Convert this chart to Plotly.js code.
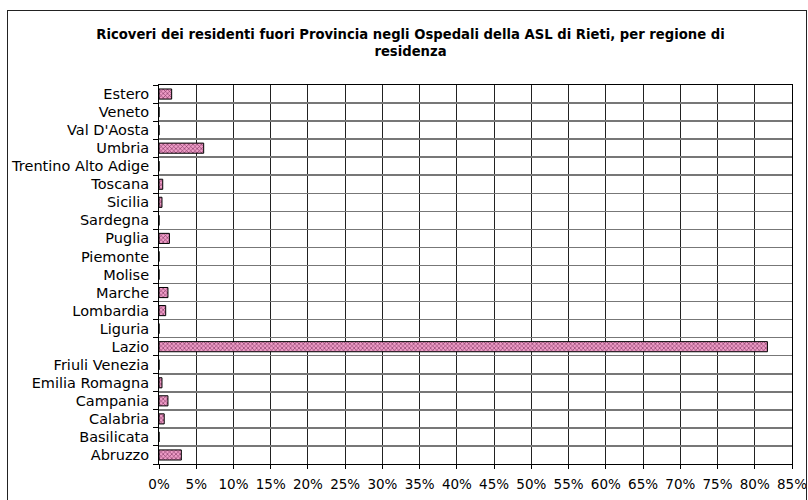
<!DOCTYPE html>
<html>
<head>
<meta charset="utf-8">
<script src="https://cdn.plot.ly/plotly-3.0.1.min.js"></script>
<style>
html,body{margin:0;padding:0;background:#fff;}
#chart{width:808px;height:500px;position:relative;}
#frame{position:absolute;left:7px;top:10px;width:800px;height:490px;border:1.5px solid #222;border-bottom:none;pointer-events:none;box-sizing:border-box;}
</style>
</head>
<body>
<div id="chart"></div>
<div id="frame"></div>
<script>
var regions = ["Abruzzo","Basilicata","Calabria","Campania","Emilia Romagna","Friuli Venezia","Lazio","Liguria","Lombardia","Marche","Molise","Piemonte","Puglia","Sardegna","Sicilia","Toscana","Trentino Alto Adige","Umbria","Val D'Aosta","Veneto","Estero"];
var percentuali = [3.0,0,0.7,1.2,0.4,0,81.7,0,0.9,1.2,0,0,1.4,0,0.4,0.5,0,6.0,0,0,1.7];
var xTicks = [0,5,10,15,20,25,30,35,40,45,50,55,60,65,70,75,80,85];
var xTickText = xTicks.map(function(v){return v+"%";});

var trace = {
  type:"bar",
  orientation:"h",
  y: regions,
  x: percentuali,
  width: 0.56,
  marker:{
    color:"#e58cbb",
    line:{color:"#000",width:1},
    pattern:{shape:"x",fgcolor:"#7a2f5c",bgcolor:"#ee9cc6",size:3,solidity:0.35}
  },
  hoverinfo:"x+y"
};

var layout = {
  width:808, height:500,
  margin:{l:159,r:16,t:85,b:36},
  paper_bgcolor:"#fff", plot_bgcolor:"#fff",
  showlegend:false,
  font:{family:"DejaVu Sans, Verdana, sans-serif",size:13,color:"#000"},
  title:{
    text:"<b>Ricoveri dei residenti fuori Provincia negli Ospedali della ASL di Rieti, per regione di<br>residenza</b>",
    font:{family:"DejaVu Sans, sans-serif",size:13.2,color:"#000"},
    x:0.508, xanchor:"center", xref:"container",
    y:0.922, yanchor:"top", yref:"container"
  },
  xaxis:{
    range:[0,85],
    tickvals:xTicks, ticktext:xTickText,
    showgrid:true, gridcolor:"#222", gridwidth:1,
    ticks:"outside", ticklen:4, tickcolor:"#000",
    showline:true, linecolor:"#000", linewidth:1, mirror:true,
    zeroline:false,
    ticklabelstandoff:4,
    tickfont:{size:13.5}
  },
  yaxis:{
    type:"category",
    categoryorder:"array", categoryarray:regions,
    tickson:"boundaries",
    showgrid:true, gridcolor:"#777", gridwidth:1.5,
    ticks:"outside", ticklen:5, tickcolor:"#000",
    showline:true, linecolor:"#000", linewidth:1, mirror:true,
    ticklabelstandoff:6,
    tickfont:{size:14.5},
    automargin:false
  },
  bargap:0.44
};

Plotly.newPlot("chart",[trace],layout,{displayModeBar:false,staticPlot:true});
</script>
</body>
</html>
